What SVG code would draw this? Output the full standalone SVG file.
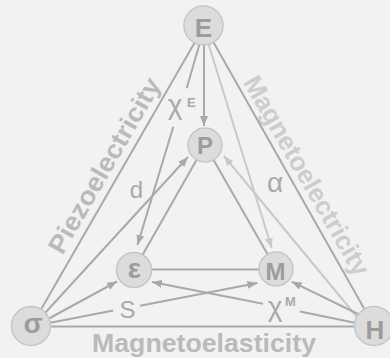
<svg xmlns="http://www.w3.org/2000/svg" width="390" height="358" viewBox="0 0 390 358">
<style>
.bg{fill:#f2f2f2}
.dk{stroke:#a9a9a9;stroke-width:2;fill:none}
.lt{stroke:#c9c9c9;stroke-width:2;fill:none}
.node circle{fill:#dcdcdc;stroke:#c6c6c6;stroke-width:1.5}
.node text{font-family:"Liberation Sans",Arial,sans-serif;font-weight:bold;fill:#9c9c9c;text-anchor:middle}
.big{font-family:"Liberation Sans",Arial,sans-serif;font-weight:bold;font-size:26px;text-anchor:middle}
.lbl{font-family:"Liberation Sans",Arial,sans-serif;fill:#a9a9a9;text-anchor:middle}
.sup{font-family:"Liberation Sans",Arial,sans-serif;font-weight:bold;fill:#a9a9a9;font-size:13px}
</style>
<defs>
<marker id="ad" viewBox="0 0 10 8" refX="10" refY="4" markerWidth="10" markerHeight="8" markerUnits="userSpaceOnUse" orient="auto"><path d="M0,0 L10,4 L0,8 z" fill="#a9a9a9"/></marker>
<marker id="al" viewBox="0 0 10 8" refX="10" refY="4" markerWidth="10" markerHeight="8" markerUnits="userSpaceOnUse" orient="auto"><path d="M0,0 L10,4 L0,8 z" fill="#c9c9c9"/></marker>
</defs>
<rect class="bg" x="0" y="0" width="390" height="358"/>
<g id="side-labels">
<text class="big" fill="#bababa" x="112" y="170" transform="rotate(-60 112 170)" textLength="198" lengthAdjust="spacingAndGlyphs">Piezoelectricity</text>
<text class="big" fill="#cdcdcd" x="299" y="180" transform="rotate(60 299 180)" textLength="226" lengthAdjust="spacingAndGlyphs">Magnetoelectricity</text>
<text class="big" fill="#bababa" x="204" y="352" textLength="224" lengthAdjust="spacingAndGlyphs">Magnetoelasticity</text>
</g>
<g id="connectors">
<line class="dk" x1="204.5" y1="25.5" x2="31.5" y2="326"/>
<line class="dk" x1="204" y1="25.5" x2="374" y2="326"/>
<line class="dk" x1="31" y1="326.5" x2="374" y2="326.5"/>
<line class="dk" x1="205" y1="145" x2="134" y2="270"/>
<line class="dk" x1="205" y1="145" x2="276" y2="269"/>
<line class="dk" x1="134" y1="269.5" x2="276" y2="269.5"/>
<line class="dk" x1="204" y1="44" x2="204" y2="126" marker-end="url(#ad)"/>
<line class="dk" x1="199.5" y1="44" x2="186.7" y2="88.3"/>
<line class="dk" x1="173.3" y1="126.7" x2="137.5" y2="245" marker-end="url(#ad)"/>
<line class="lt" x1="208.5" y1="44" x2="271.7" y2="248" marker-end="url(#al)"/>
<line class="lt" x1="357" y1="317" x2="224" y2="156" marker-end="url(#al)"/>
<line class="dk" x1="45" y1="313" x2="188" y2="157" marker-end="url(#ad)"/>
<line class="dk" x1="48" y1="319" x2="117" y2="281.5" marker-end="url(#ad)"/>
<line class="dk" x1="49" y1="323" x2="113.3" y2="310.4"/>
<line class="dk" x1="140" y1="305.7" x2="257.5" y2="283" marker-end="url(#ad)"/>
<line class="dk" x1="356" y1="323" x2="300" y2="311.4"/>
<line class="dk" x1="263" y1="303.8" x2="152" y2="282" marker-end="url(#ad)"/>
<line class="dk" x1="358" y1="314" x2="291.7" y2="281.7" marker-end="url(#ad)"/>
</g>
<g id="edge-labels">
<text class="lbl" font-size="28" x="175" y="114">χ</text>
<text class="sup" x="187" y="107">E</text>
<text class="lbl" font-size="24" x="136.5" y="198">d</text>
<text class="lbl" font-size="28" x="275" y="192" fill="#c9c9c9">α</text>
<text class="lbl" font-size="24" x="127.5" y="318">S</text>
<text class="lbl" font-size="28" x="275" y="316">χ</text>
<text class="sup" x="285" y="306">M</text>
</g>
<g id="node-E" class="node"><circle cx="203.5" cy="25.5" r="19.5"/><text x="203.5" y="37" font-size="26">E</text></g>
<g id="node-P" class="node"><circle cx="205" cy="145" r="17"/><text x="205" y="154" font-size="24">P</text></g>
<g id="node-eps" class="node"><circle cx="134" cy="270" r="17.5"/><text x="134.5" y="278" font-size="28">ε</text></g>
<g id="node-M" class="node"><circle cx="276" cy="269" r="17"/><text x="275.5" y="280" font-size="24">M</text></g>
<g id="node-sigma" class="node"><circle cx="31" cy="326" r="19.5"/><text x="33" y="333" font-size="28">σ</text></g>
<g id="node-H" class="node"><circle cx="374" cy="326" r="19.5"/><text x="375" y="339" font-size="26">H</text></g>
</svg>
